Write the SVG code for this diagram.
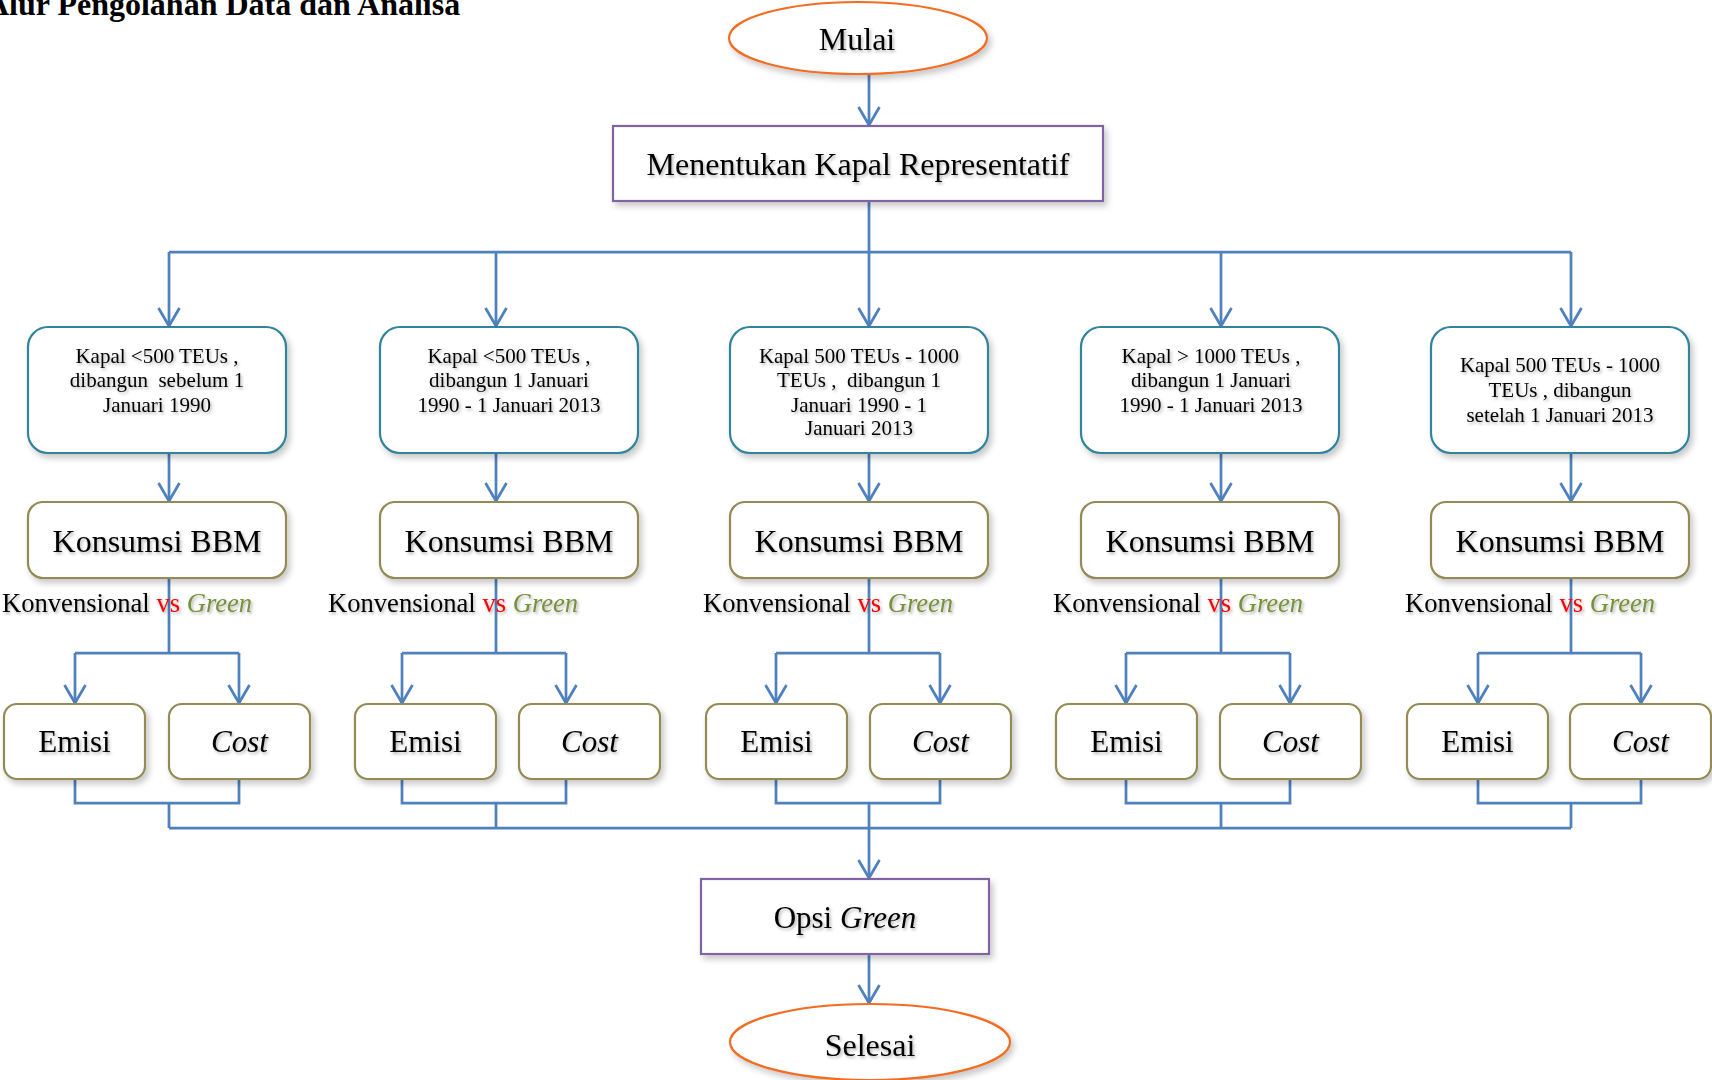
<svg xmlns="http://www.w3.org/2000/svg" width="1712" height="1080" viewBox="0 0 1712 1080">
<defs>
<style>
.conn{fill:none;stroke:#4F81BD;stroke-width:2.75}
.arr{marker-end:url(#ah)}
.term{fill:#fff;stroke:#F26C21;stroke-width:2.2;filter:url(#bs)}
.proc{fill:#fff;stroke:#8064A2;stroke-width:2.2;filter:url(#bs)}
.cat{fill:#fff;stroke:#31849B;stroke-width:2.2;filter:url(#bs)}
.sub{fill:#fff;stroke:#948A54;stroke-width:2.2;filter:url(#bs)}
.t{font-family:"Liberation Serif","Times New Roman",serif;fill:#000;text-anchor:middle;filter:url(#ts)}
.s21{font-size:21px}
.s26{font-size:26.6px;text-anchor:start}
.s31{font-size:31px}
.s32{font-size:32px}
.it{font-style:italic}
.red{fill:#FF0000}
.grn{fill:#76923C;font-style:italic}
</style>
<filter id="bs" x="-10%" y="-20%" width="125%" height="150%">
<feDropShadow dx="3" dy="4" stdDeviation="3" flood-color="#000" flood-opacity="0.22"/>
</filter>
<filter id="ts" x="-10%" y="-30%" width="120%" height="170%">
<feDropShadow dx="1.5" dy="2" stdDeviation="1.5" flood-color="#000" flood-opacity="0.3"/>
</filter>
<marker id="ah" markerUnits="userSpaceOnUse" orient="auto" refX="0" refY="0" markerWidth="30" markerHeight="30" overflow="visible">
<path d="M-18,-10.5 L0,0 L-18,10.5" fill="none" stroke="#4F81BD" stroke-width="2.75"/>
</marker>
</defs>
<rect width="1712" height="1080" fill="#fff"/>

<text x="-14" y="15" font-family="Liberation Serif, Times New Roman, serif" font-size="32" font-weight="bold" fill="#000">Alur Pengolahan Data dan Analisa</text>

<g id="connectors">
<path class="conn arr" d="M869,74 V125"/>
<path class="conn" d="M869,201 V252 M169,252 H1571"/>
<path class="conn arr" d="M169,252 V326"/>
<path class="conn arr" d="M496,252 V326"/>
<path class="conn arr" d="M869,252 V326"/>
<path class="conn arr" d="M1221,252 V326"/>
<path class="conn arr" d="M1571,252 V326"/>
<path class="conn arr" d="M169,453 V501"/>
<path class="conn arr" d="M496,453 V501"/>
<path class="conn arr" d="M869,453 V501"/>
<path class="conn arr" d="M1221,453 V501"/>
<path class="conn arr" d="M1571,453 V501"/>
<path class="conn" d="M169,578 V653 M75,653 H239"/>
<path class="conn" d="M496,578 V653 M402,653 H566"/>
<path class="conn" d="M869,578 V653 M776,653 H940"/>
<path class="conn" d="M1221,578 V653 M1126,653 H1290"/>
<path class="conn" d="M1571,578 V653 M1478,653 H1641"/>
<path class="conn arr" d="M75,653 V703"/>
<path class="conn arr" d="M239,653 V703"/>
<path class="conn arr" d="M402,653 V703"/>
<path class="conn arr" d="M566,653 V703"/>
<path class="conn arr" d="M776,653 V703"/>
<path class="conn arr" d="M940,653 V703"/>
<path class="conn arr" d="M1126,653 V703"/>
<path class="conn arr" d="M1290,653 V703"/>
<path class="conn arr" d="M1478,653 V703"/>
<path class="conn arr" d="M1641,653 V703"/>
<path class="conn" d="M75,779 V803 H239 V779 M169,803 V828"/>
<path class="conn" d="M402,779 V803 H566 V779 M496,803 V828"/>
<path class="conn" d="M776,779 V803 H940 V779"/>
<path class="conn" d="M1126,779 V803 H1290 V779 M1221,803 V828"/>
<path class="conn" d="M1478,779 V803 H1641 V779 M1571,803 V828"/>
<path class="conn" d="M169,828 H1571"/>
<path class="conn arr" d="M869,803 V878"/>
<path class="conn arr" d="M869,954 V1003"/>
</g>

<g id="mulai">
<ellipse class="term" cx="858" cy="38" rx="129" ry="36"/>
<text class="t s32" x="857" y="50">Mulai</text>
</g>

<g id="menentukan">
<rect class="proc" x="613" y="126" width="490" height="75"/>
<text class="t s32" x="858" y="175">Menentukan Kapal Representatif</text>
</g>

<g id="kapal1">
<rect class="cat" x="28" y="327" width="258" height="126" rx="20"/>
<text class="t s21" x="157" y="363" xml:space="preserve">Kapal &lt;500 TEUs ,</text>
<text class="t s21" x="157" y="387" xml:space="preserve">dibangun  sebelum 1</text>
<text class="t s21" x="157" y="412">Januari 1990</text>
</g>
<g id="kapal2">
<rect class="cat" x="380" y="327" width="258" height="126" rx="20"/>
<text class="t s21" x="509" y="363">Kapal &lt;500 TEUs ,</text>
<text class="t s21" x="509" y="387">dibangun 1 Januari</text>
<text class="t s21" x="509" y="412">1990 - 1 Januari 2013</text>
</g>
<g id="kapal3">
<rect class="cat" x="730" y="327" width="258" height="126" rx="20"/>
<text class="t s21" x="859" y="363">Kapal 500 TEUs - 1000</text>
<text class="t s21" x="859" y="387" xml:space="preserve">TEUs ,  dibangun 1</text>
<text class="t s21" x="859" y="412">Januari 1990 - 1</text>
<text class="t s21" x="859" y="435">Januari 2013</text>
</g>
<g id="kapal4">
<rect class="cat" x="1081" y="327" width="258" height="126" rx="20"/>
<text class="t s21" x="1211" y="363">Kapal &gt; 1000 TEUs ,</text>
<text class="t s21" x="1211" y="387">dibangun 1 Januari</text>
<text class="t s21" x="1211" y="412">1990 - 1 Januari 2013</text>
</g>
<g id="kapal5">
<rect class="cat" x="1431" y="327" width="258" height="126" rx="20"/>
<text class="t s21" x="1560" y="372">Kapal 500 TEUs - 1000</text>
<text class="t s21" x="1560" y="397">TEUs , dibangun</text>
<text class="t s21" x="1560" y="422">setelah 1 Januari 2013</text>
</g>

<g id="bbm1"><rect class="sub" x="28" y="502" width="258" height="76" rx="15"/><text class="t s32" x="157" y="552">Konsumsi BBM</text></g>
<g id="bbm2"><rect class="sub" x="380" y="502" width="258" height="76" rx="15"/><text class="t s32" x="509" y="552">Konsumsi BBM</text></g>
<g id="bbm3"><rect class="sub" x="730" y="502" width="258" height="76" rx="15"/><text class="t s32" x="859" y="552">Konsumsi BBM</text></g>
<g id="bbm4"><rect class="sub" x="1081" y="502" width="258" height="76" rx="15"/><text class="t s32" x="1210" y="552">Konsumsi BBM</text></g>
<g id="bbm5"><rect class="sub" x="1431" y="502" width="258" height="76" rx="15"/><text class="t s32" x="1560" y="552">Konsumsi BBM</text></g>

<g id="labels">
<text class="t s26" x="2" y="612">Konvensional <tspan class="red">vs</tspan> <tspan class="grn">Green</tspan></text>
<text class="t s26" x="328" y="612">Konvensional <tspan class="red">vs</tspan> <tspan class="grn">Green</tspan></text>
<text class="t s26" x="703" y="612">Konvensional <tspan class="red">vs</tspan> <tspan class="grn">Green</tspan></text>
<text class="t s26" x="1053" y="612">Konvensional <tspan class="red">vs</tspan> <tspan class="grn">Green</tspan></text>
<text class="t s26" x="1405" y="612">Konvensional <tspan class="red">vs</tspan> <tspan class="grn">Green</tspan></text>
</g>

<g id="emisi1"><rect class="sub" x="4" y="704" width="141" height="75" rx="13"/><text class="t s31" x="74.5" y="752">Emisi</text></g>
<g id="cost1"><rect class="sub" x="169" y="704" width="141" height="75" rx="13"/><text class="t s31 it" x="239.5" y="752">Cost</text></g>
<g id="emisi2"><rect class="sub" x="355" y="704" width="141" height="75" rx="13"/><text class="t s31" x="425.5" y="752">Emisi</text></g>
<g id="cost2"><rect class="sub" x="519" y="704" width="141" height="75" rx="13"/><text class="t s31 it" x="589.5" y="752">Cost</text></g>
<g id="emisi3"><rect class="sub" x="706" y="704" width="141" height="75" rx="13"/><text class="t s31" x="776.5" y="752">Emisi</text></g>
<g id="cost3"><rect class="sub" x="870" y="704" width="141" height="75" rx="13"/><text class="t s31 it" x="940.5" y="752">Cost</text></g>
<g id="emisi4"><rect class="sub" x="1056" y="704" width="141" height="75" rx="13"/><text class="t s31" x="1126.5" y="752">Emisi</text></g>
<g id="cost4"><rect class="sub" x="1220" y="704" width="141" height="75" rx="13"/><text class="t s31 it" x="1290.5" y="752">Cost</text></g>
<g id="emisi5"><rect class="sub" x="1407" y="704" width="141" height="75" rx="13"/><text class="t s31" x="1477.5" y="752">Emisi</text></g>
<g id="cost5"><rect class="sub" x="1570" y="704" width="141" height="75" rx="13"/><text class="t s31 it" x="1640.5" y="752">Cost</text></g>

<g id="opsi">
<rect class="proc" x="701" y="879" width="288" height="75"/>
<text class="t s31" x="845" y="928">Opsi <tspan class="it">Green</tspan></text>
</g>

<g id="selesai">
<ellipse class="term" cx="870" cy="1042" rx="140" ry="38"/>
<text class="t s32" x="870" y="1056">Selesai</text>
</g>
</svg>
